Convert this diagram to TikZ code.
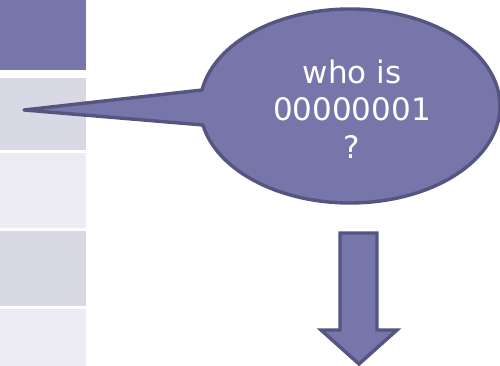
\documentclass[tikz,border=0pt]{standalone}
\usepackage{fontspec}
\setmainfont{DejaVu Sans}
\usetikzlibrary{calc}
\definecolor{mainfill}{RGB}{118,118,171}
\definecolor{mainline}{RGB}{85,85,128}
\definecolor{rowlight}{RGB}{217,217,230}
\definecolor{rowpale}{RGB}{236,236,242}
\begin{document}
\begin{tikzpicture}[x=1pt,y=1pt,
  shapeline/.style={draw=mainline,fill=mainfill,line width=3.4pt,line join=round},
  bubbletext/.style={text=white,align=center,font=\fontsize{31}{37.5}\selectfont,inner sep=0pt}]
\useasboundingbox (0,0) rectangle (500,366);
% column of cells
\fill[mainfill] (0,296) rectangle (86,366);
\fill[rowlight] (0,216) rectangle (86,288);
\fill[rowpale] (0,138) rectangle (86,213);
\fill[rowlight] (0,60) rectangle (86,135);
\fill[rowpale] (0,0) rectangle (86,57);
% callout
\coordinate (tip) at (24,256);
\coordinate (ctr) at (350,260);
\draw[shapeline] (tip) -- ($(ctr)+(191.3:150 and 97)$)
  arc[start angle=191.3,end angle=530.5,x radius=150,y radius=97] -- cycle;
\node[bubbletext] (txt) at (352,257) {who is\\00000001\\?};
% down arrow
\draw[shapeline,line join=miter] (340,133) -- (377,133) -- (377,36) -- (397,36)
  -- (359,2) -- (321,36) -- (340,36) -- cycle;
\end{tikzpicture}
\end{document}
